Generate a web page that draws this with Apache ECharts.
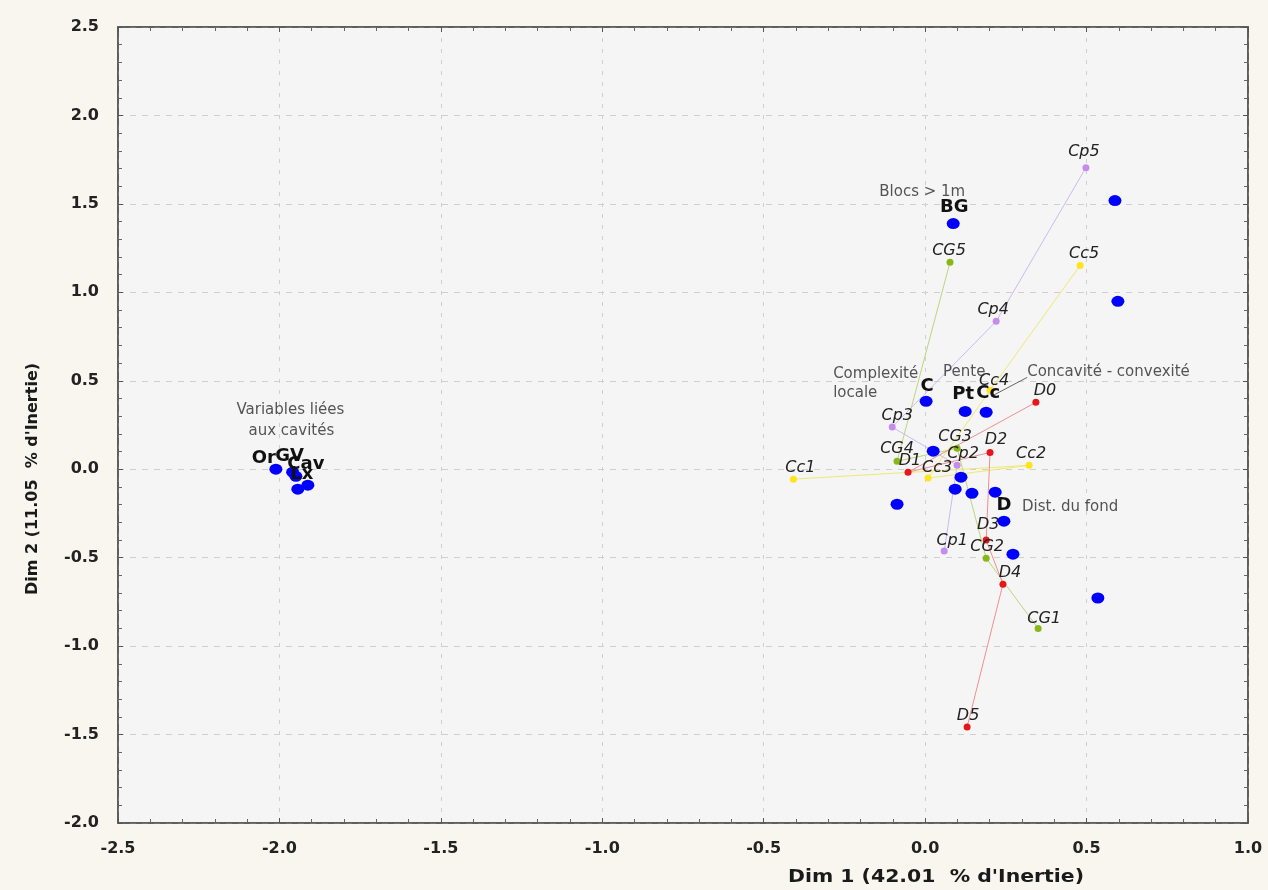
<!DOCTYPE html>
<html><head><meta charset="utf-8">
<script src="https://cdn.jsdelivr.net/npm/echarts@6/dist/echarts.min.js"></script>
<style>html,body{margin:0;padding:0;background:#f8f6ef;}#c{width:1268px;height:890px;}</style>
</head><body><div id="c"></div>
<script>
// ---- data ----
const xTitle = "Dim 1 (42.01  % d'Inertie)";
const yTitle = "Dim 2 (11.05  % d'Inertie)";
const xRange = [-2.5, 1.0];
const yRange = [-2.0, 2.5];
const tickStep = 0.5;

// trajectories (modalities)
const cgNames = ['CG1','CG2','CG3','CG4','CG5'];
const cgX = [0.350, 0.189, 0.099, -0.087, 0.077];
const cgY = [-0.900, -0.503, 0.118, 0.045, 1.170];

const cpNames = ['Cp1','Cp2','Cp3','Cp4','Cp5'];
const cpX = [0.059, 0.099, -0.102, 0.220, 0.498];
const cpY = [-0.463, 0.023, 0.238, 0.836, 1.705];

const ccNames = ['Cc1','Cc2','Cc3','Cc4','Cc5'];
const ccX = [-0.408, 0.322, 0.009, 0.201, 0.480];
const ccY = [-0.056, 0.022, -0.050, 0.446, 1.152];

const dNames = ['D0','D1','D2','D3','D4','D5'];
const dX = [0.343, -0.053, 0.201, 0.189, 0.241, 0.130];
const dY = [0.378, -0.017, 0.095, -0.400, -0.650, -1.457];

// variables (blue points)
const varNames = ['BG','','','C','Pt','Cc','','','','','','','D','','','Or','GV','','Cav','Lx'];
const varX = [0.087, 0.588, 0.597, 0.003, 0.124, 0.189, 0.025, 0.111, 0.093, 0.145, 0.217, -0.087, 0.244, 0.272, 0.535, -2.011, -1.959, -1.949, -1.912, -1.943];
const varY = [1.389, 1.519, 0.949, 0.384, 0.327, 0.322, 0.102, -0.045, -0.113, -0.136, -0.130, -0.198, -0.294, -0.480, -0.728, 0.000, -0.017, -0.040, -0.090, -0.113];

// annotations
const annText = ['Blocs > 1m','Complexité','locale','Pente','Concavité - convexité','Dist. du fond','Variables liées','aux cavités'];
const annX = [-0.009, -0.285, -0.285, 0.121, 0.316, 0.300, -1.966, -1.963];
const annY = [1.564, 0.536, 0.429, 0.548, 0.548, -0.215, 0.333, 0.215];
const leaderX = [0.316, 0.205];
const leaderY = [0.519, 0.412];

// ---- styles ----
const annAlign = ['center','left','left','center','left','left','center','center'];
const trajLabelOffset = {
  Cp5:[-2,-4], Cc1:[7,0], CG5:[-1,0], Cp4:[-3,0], Cc5:[4,0], D0:[9,0], D2:[6,-1], Cc2:[2,0],
  CG3:[-2,0], Cp2:[6,0], CG4:[0,-1], D1:[2,0], Cc3:[9,1], Cp3:[5,0], Cc4:[4,2], D3:[2,-4],
  Cp1:[8,1], CG2:[1,0], D4:[7,0], CG1:[6,2], D5:[1,0]
};
const varLabelOffset = { BG:[1,0], C:[1,2], Pt:[-2,-1], Cc:[2,-2], D:[0,1], Or:[-12,6], GV:[-3,1], Cav:[-2,-4], Lx:[4,2] };
const FONT = 'DejaVu Sans';

function traj(names, xs, ys, itemColor, lineColor) {
  return {
    type: 'line', symbol: 'circle', symbolSize: 7, z: 3,
    lineStyle: { color: lineColor, width: 1 },
    itemStyle: { color: itemColor },
    label: { show: true, position: 'top', distance: 0, formatter: p => p.name,
      fontFamily: FONT, fontStyle: 'italic', fontSize: 16, color: '#222' },
    emphasis: { disabled: true },
    data: xs.map((x, i) => ({ name: names[i], value: [x, ys[i]],
      label: { offset: trajLabelOffset[names[i]] || [0,0] } }))
  };
}

const axisCommon = {
  type: 'value', interval: tickStep,
  axisLine: { show: true, onZero: false, lineStyle: { color: '#555', width: 1.5 } },
  axisTick: { show: true, inside: true, length: 5, lineStyle: { color: '#555' } },
  minorTick: { show: true, splitNumber: 5, length: 4, lineStyle: { color: '#666' } },
  splitLine: { show: false }, minorSplitLine: { show: false }
};
const labelStyle = { fontFamily: FONT, fontWeight: 'bold', fontSize: 16, color: '#222', formatter: v => v.toFixed(1) };

const chart = echarts.init(document.getElementById('c'), null, { renderer: 'canvas' });
chart.setOption({
  backgroundColor: '#f8f6ef',
  animation: false,
  grid: { left: 118, top: 27, width: 1130, height: 796, show: true, backgroundColor: '#f5f5f5', borderColor: '#555', borderWidth: 1.5 },
  xAxis: [
    Object.assign({}, axisCommon, { position: 'bottom', min: xRange[0], max: xRange[1],
      axisLabel: Object.assign({ margin: 18 }, labelStyle),
      splitLine: { show: true, lineStyle: { color: '#cfcfcf', type: [4, 7], width: 1 } } }),
    Object.assign({}, axisCommon, { position: 'top', min: xRange[0], max: xRange[1], axisLabel: { show: false } })
  ],
  yAxis: [
    Object.assign({}, axisCommon, { position: 'left', min: yRange[0], max: yRange[1],
      axisLabel: Object.assign({ margin: 19 }, labelStyle),
      splitLine: { show: true, lineStyle: { color: '#cfcfcf', type: [6, 6], width: 1 } } }),
    Object.assign({}, axisCommon, { position: 'right', min: yRange[0], max: yRange[1], axisLabel: { show: false } })
  ],
  graphic: [
    { type: 'text', x: 936, y: 878, scaleX: 1.2,
      style: { text: xTitle, x: 0, y: 0, align: 'center', verticalAlign: 'middle', font: 'bold 17px "DejaVu Sans"', fill: '#1a1a1a' } },
    { type: 'text', x: 33, y: 479, rotation: Math.PI / 2,
      style: { text: yTitle, x: 0, y: 0, align: 'center', verticalAlign: 'middle', font: 'bold 16px "DejaVu Sans"', fill: '#1a1a1a' } }
  ],
  series: [
    { type: 'line', symbol: 'none', z: 2, lineStyle: { color: '#666', width: 1 }, emphasis: { disabled: true },
      data: leaderX.map((x, i) => [x, leaderY[i]]) },
    traj(cgNames, cgX, cgY, '#86b817', '#bcd67a'),
    traj(cpNames, cpX, cpY, '#c58cf0', '#cdb9f2'),
    traj(ccNames, ccX, ccY, '#ffe41a', '#eeea70'),
    traj(dNames, dX, dY, '#e8161b', '#f09090'),
    {
      type: 'scatter', symbol: 'circle', symbolSize: [13, 11], z: 4,
      itemStyle: { color: '#0000ff', opacity: 1 },
      label: { show: true, position: 'top', distance: 2, formatter: p => p.name,
        fontFamily: FONT, fontWeight: 'bold', fontSize: 18, color: '#111' },
      emphasis: { disabled: true },
      data: varX.map((x, i) => ({ name: varNames[i], value: [x, varY[i]],
        label: { offset: varLabelOffset[varNames[i]] || [0,0] } }))
    },
    {
      type: 'scatter', symbolSize: 0, z: 5, silent: true,
      label: { show: true, position: [0, 0], formatter: p => p.name,
        fontFamily: FONT, fontSize: 15, color: '#2a2a2a', verticalAlign: 'middle' },
      data: annX.map((x, i) => ({ name: annText[i], value: [x, annY[i]],
        label: { align: annAlign[i] } }))
    }
  ]
});
</script></body></html>
